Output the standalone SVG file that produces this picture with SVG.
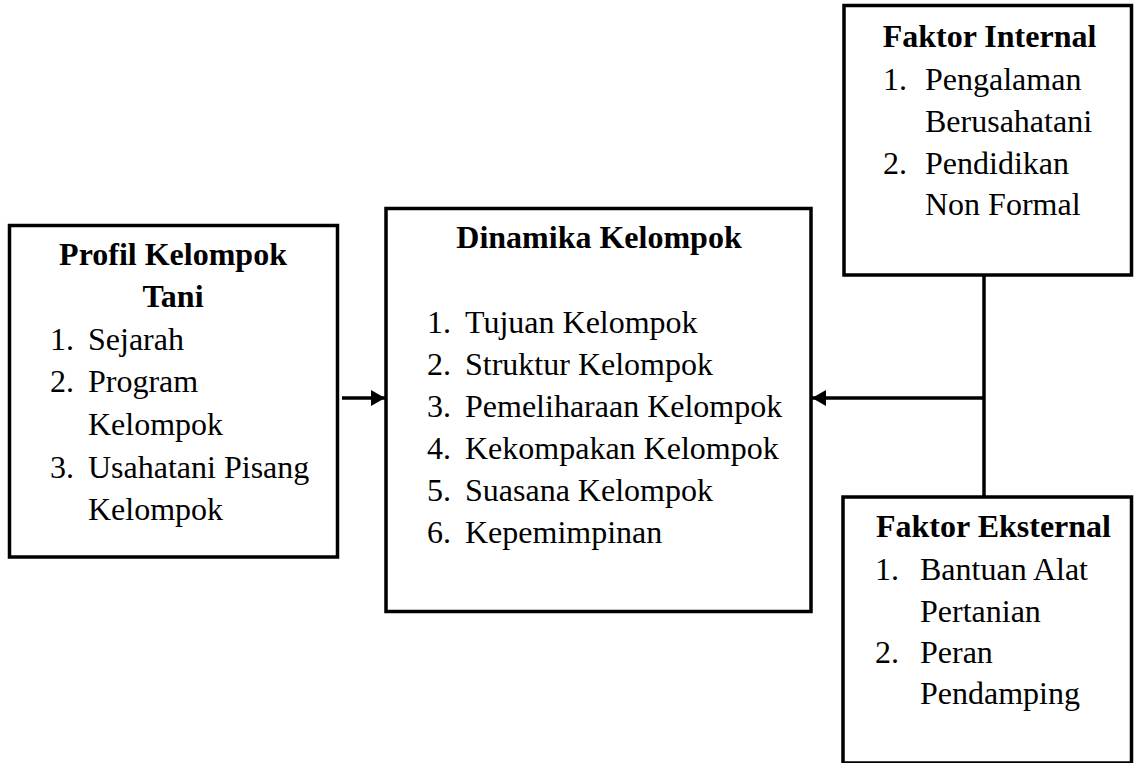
<svg xmlns="http://www.w3.org/2000/svg" width="1135" height="763" viewBox="0 0 1135 763">
<style>
.box{fill:#fff;stroke:#000;stroke-width:3.5}
.t{font-family:"Liberation Serif","Times New Roman",serif;font-size:32px;fill:#000}
.b{font-weight:bold}
.c{text-anchor:middle}
.ln{stroke:#000;stroke-width:3.5;fill:none}
</style>
<defs>
<marker id="ah" viewBox="0 0 14 16" refX="14" refY="8" markerWidth="14" markerHeight="16" markerUnits="userSpaceOnUse" orient="auto">
<path d="M0,0 L14,8 L0,16 Z" fill="#000"/>
</marker>
</defs>
<g id="connectors">
<line class="ln" x1="342" y1="398" x2="385" y2="398" marker-end="url(#ah)"/>
<line class="ln" x1="984" y1="275" x2="984" y2="497"/>
<line class="ln" x1="984" y1="398" x2="812" y2="398" marker-end="url(#ah)"/>
</g>
<g id="profil">
<rect class="box" x="9.5" y="225.5" width="328" height="331.5"/>
<text class="t b c" x="173" y="265">Profil Kelompok</text>
<text class="t b c" x="173" y="307">Tani</text>
<text class="t" x="50" y="350">1.</text><text class="t" x="88" y="350">Sejarah</text>
<text class="t" x="50" y="392">2.</text><text class="t" x="88" y="392">Program</text>
<text class="t" x="88" y="435">Kelompok</text>
<text class="t" x="50" y="478">3.</text><text class="t" x="88" y="478">Usahatani Pisang</text>
<text class="t" x="88" y="520">Kelompok</text>
</g>
<g id="dinamika">
<rect class="box" x="386" y="208.5" width="425" height="403"/>
<text class="t b c" x="599" y="248">Dinamika Kelompok</text>
<text class="t" x="427" y="333">1.</text><text class="t" x="465" y="333">Tujuan Kelompok</text>
<text class="t" x="427" y="375">2.</text><text class="t" x="465" y="375">Struktur Kelompok</text>
<text class="t" x="427" y="417">3.</text><text class="t" x="465" y="417">Pemeliharaan Kelompok</text>
<text class="t" x="427" y="459">4.</text><text class="t" x="465" y="459">Kekompakan Kelompok</text>
<text class="t" x="427" y="501">5.</text><text class="t" x="465" y="501">Suasana Kelompok</text>
<text class="t" x="427" y="543">6.</text><text class="t" x="465" y="543">Kepemimpinan</text>
</g>
<g id="internal">
<rect class="box" x="844" y="5.5" width="287.5" height="269.5"/>
<text class="t b c" x="989.5" y="47">Faktor Internal</text>
<text class="t" x="883" y="90">1.</text><text class="t" x="925" y="90">Pengalaman</text>
<text class="t" x="925" y="132">Berusahatani</text>
<text class="t" x="883" y="174">2.</text><text class="t" x="925" y="174">Pendidikan</text>
<text class="t" x="925" y="215">Non Formal</text>
</g>
<g id="eksternal">
<rect class="box" x="843" y="497" width="288.5" height="266"/>
<text class="t b" x="876" y="537">Faktor Eksternal</text>
<text class="t" x="875" y="580">1.</text><text class="t" x="920" y="580">Bantuan Alat</text>
<text class="t" x="920" y="622">Pertanian</text>
<text class="t" x="875" y="663">2.</text><text class="t" x="920" y="663">Peran</text>
<text class="t" x="920" y="704">Pendamping</text>
</g>
</svg>
